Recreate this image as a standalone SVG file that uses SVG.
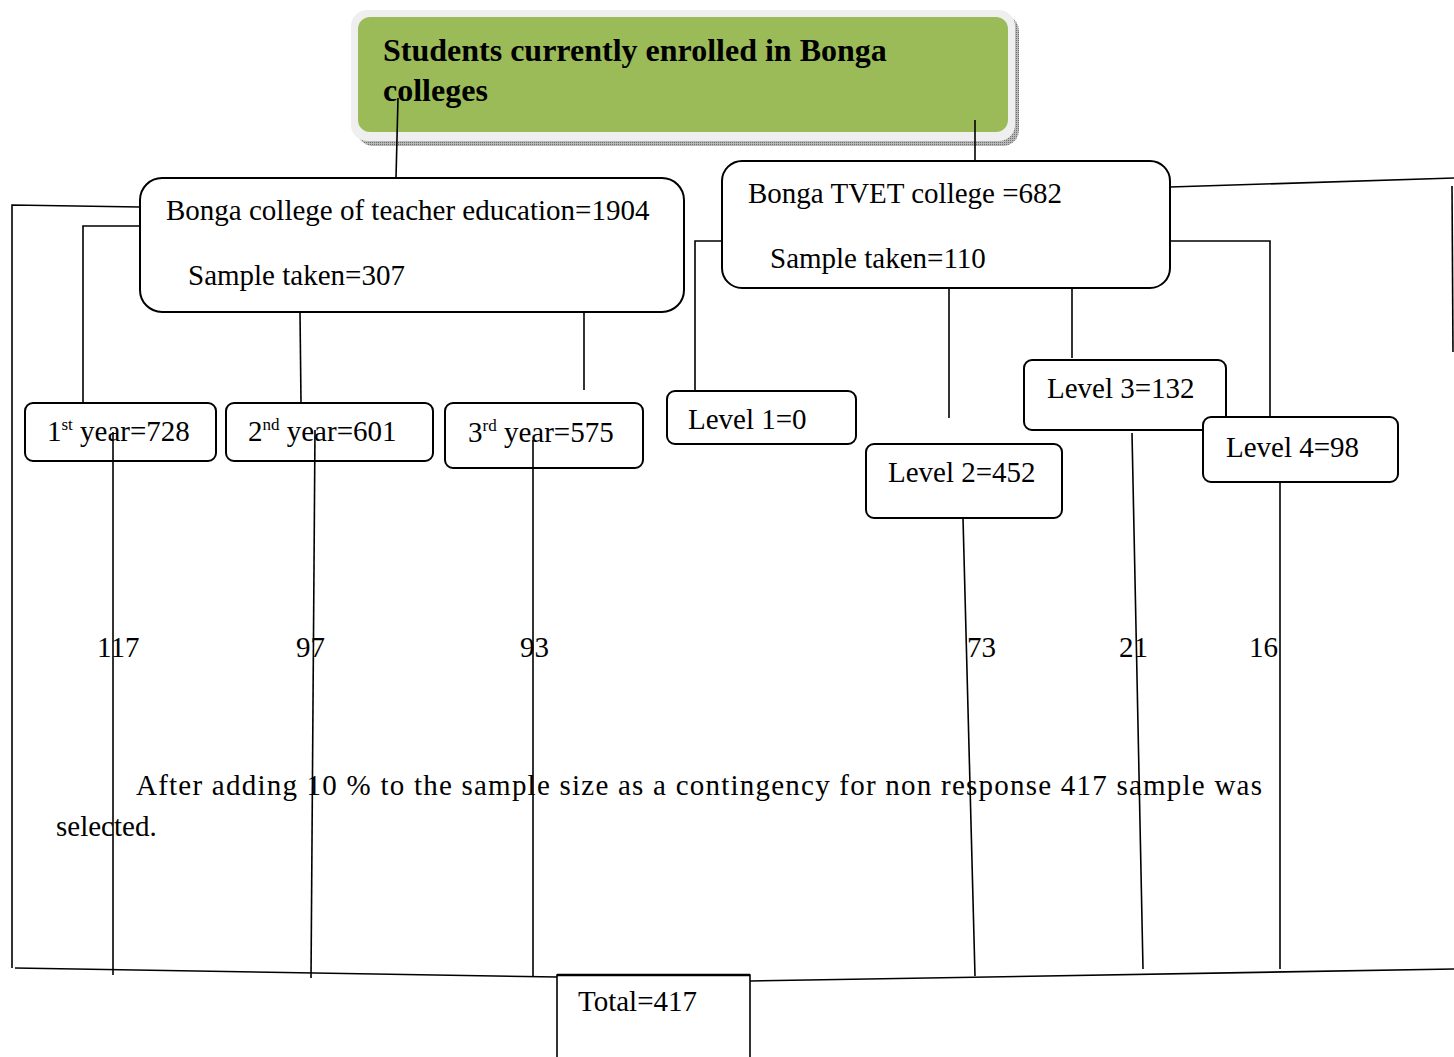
<svg xmlns="http://www.w3.org/2000/svg" width="1454" height="1057" viewBox="0 0 1454 1057">
  <defs>
    <pattern id="dots" width="2" height="2" patternUnits="userSpaceOnUse">
      <rect width="2" height="2" fill="#b8b8b8"/>
      <rect width="1" height="1" fill="#6f6f6f"/>
    </pattern>
    <style>
      .box { fill:#ffffff; stroke:#000000; stroke-width:2; }
      .conn { stroke:#000000; stroke-width:1.6; fill:none; }
      .t { font-family:"Liberation Serif","Times New Roman",serif; font-size:29px; fill:#000000; }
      .title { font-family:"Liberation Serif","Times New Roman",serif; font-size:32px; font-weight:bold; fill:#000000; }
      .sup { font-size:17px; }
    </style>
  </defs>

  <rect width="1454" height="1057" fill="#ffffff"/>

  <!-- Top title node -->
  <g id="node-root">
    <rect x="357" y="15" width="662" height="131" rx="16" fill="url(#dots)"/>
    <rect x="351" y="10" width="664" height="131" rx="16" fill="#efefef"/>
    <rect x="358" y="17" width="650" height="115" rx="12" fill="#9BBB59"/>
    <text class="title" x="383" y="61">Students currently enrolled in Bonga</text>
    <text class="title" x="383" y="101">colleges</text>
  </g>

  <g id="node-teacher">
    <rect class="box" x="140" y="178" width="544" height="134" rx="22"/>
    <text class="t" x="166" y="220">Bonga college of teacher education=1904</text>
    <text class="t" x="188" y="285">Sample taken=307</text>
  </g>

  <g id="node-tvet">
    <rect class="box" x="722" y="161" width="448" height="127" rx="20"/>
    <text class="t" x="748" y="203">Bonga TVET college =682</text>
    <text class="t" x="770" y="268">Sample taken=110</text>
  </g>

  <g id="node-year1">
    <rect class="box" x="25" y="403" width="191" height="58" rx="8"/>
    <text class="t" x="47" y="441">1<tspan class="sup" dy="-11">st</tspan><tspan dy="11"> year=728</tspan></text>
  </g>
  <g id="node-year2">
    <rect class="box" x="226" y="403" width="207" height="58" rx="8"/>
    <text class="t" x="248" y="441">2<tspan class="sup" dy="-11">nd</tspan><tspan dy="11"> year=601</tspan></text>
  </g>
  <g id="node-year3">
    <rect class="box" x="445" y="403" width="198" height="65" rx="8"/>
    <text class="t" x="468" y="442">3<tspan class="sup" dy="-11">rd</tspan><tspan dy="11"> year=575</tspan></text>
  </g>

  <g id="node-level1">
    <rect class="box" x="667" y="391" width="189" height="53" rx="8"/>
    <text class="t" x="688" y="429">Level 1=0</text>
  </g>
  <g id="node-level2">
    <rect class="box" x="866" y="444" width="196" height="74" rx="8"/>
    <text class="t" x="888" y="482">Level 2=452</text>
  </g>
  <g id="node-level3">
    <rect class="box" x="1024" y="360" width="202" height="70" rx="8"/>
    <text class="t" x="1047" y="398">Level 3=132</text>
  </g>
  <g id="node-level4">
    <rect class="box" x="1203" y="417" width="195" height="65" rx="8"/>
    <text class="t" x="1226" y="457">Level 4=98</text>
  </g>

  <!-- counts -->
  <g id="counts">
    <text class="t" x="97" y="657">117</text>
    <text class="t" x="296" y="657">97</text>
    <text class="t" x="520" y="657">93</text>
    <text class="t" x="967" y="657">73</text>
    <text class="t" x="1119" y="657">21</text>
    <text class="t" x="1249" y="657">16</text>
  </g>

  <g id="note">
    <text class="t" x="136" y="795" textLength="1126" lengthAdjust="spacing">After adding 10 % to the sample size as a contingency for non response 417 sample was</text>
    <text class="t" x="56" y="836">selected.</text>
  </g>

  <g id="node-total">
    <polyline points="557,1057 557,975 750,975 750,1057" fill="#ffffff" stroke="#000000" stroke-width="1.6"/>
    <line x1="557" y1="975" x2="750" y2="975" stroke="#000000" stroke-width="2.6"/>
    <text class="t" x="578" y="1011">Total=417</text>
  </g>

  <!-- Connectors -->
  <g id="connectors">
    <line class="conn" x1="398" y1="98" x2="396" y2="178"/>
    <line class="conn" x1="975" y1="120" x2="975" y2="161"/>
    <!-- teacher college branches -->
    <polyline class="conn" points="140,207 12,205 12,968"/>
    <polyline class="conn" points="140,226 83,226 83,403"/>
    <line class="conn" x1="300" y1="312" x2="301" y2="403"/>
    <line class="conn" x1="584" y1="312" x2="584" y2="390"/>
    <!-- TVET branches -->
    <polyline class="conn" points="722,241 695,241 695,391"/>
    <line class="conn" x1="949" y1="288" x2="949" y2="418"/>
    <line class="conn" x1="1072" y1="288" x2="1072" y2="358"/>
    <polyline class="conn" points="1170,241 1270,241 1270,418"/>
    <line class="conn" x1="1170" y1="187" x2="1454" y2="178"/>
    <line class="conn" x1="1452" y1="186" x2="1453" y2="352" stroke-width="2.2"/>
    <!-- down lines to total -->
    <line class="conn" x1="113" y1="432" x2="113" y2="975"/>
    <line class="conn" x1="315" y1="430" x2="311" y2="978"/>
    <line class="conn" x1="533" y1="440" x2="533" y2="976"/>
    <line class="conn" x1="963" y1="518" x2="975" y2="976"/>
    <line class="conn" x1="1132" y1="433" x2="1143" y2="969"/>
    <line class="conn" x1="1280" y1="482" x2="1280" y2="969"/>
    <!-- bottom collectors -->
    <line class="conn" x1="15" y1="968" x2="557" y2="977" stroke-width="2.2"/>
    <line class="conn" x1="750" y1="981" x2="1454" y2="969" stroke-width="2.2"/>
  </g>
</svg>
